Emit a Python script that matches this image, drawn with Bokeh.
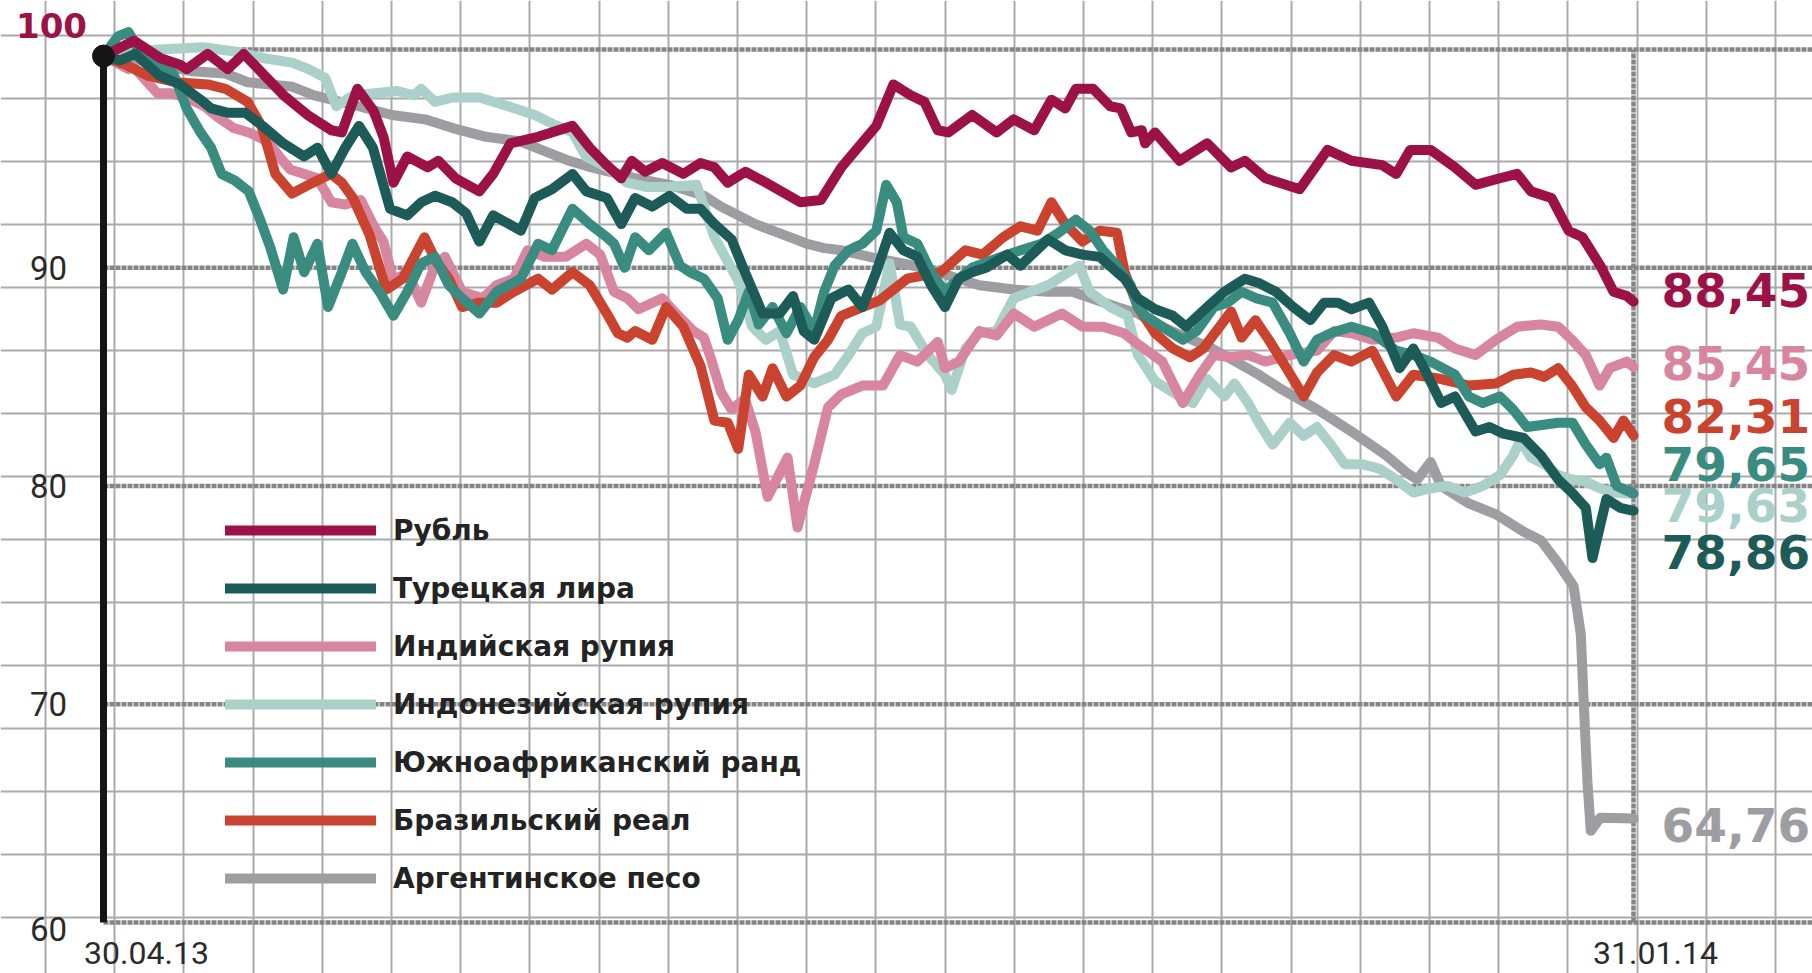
from bokeh.plotting import figure
from bokeh.models import Range1d, Grid, FixedTicker, Legend, LegendItem, ColumnDataSource
from bokeh.core.properties import value
from bokeh.embed import file_html
from bokeh.resources import INLINE

# ---------------- data (days since 30.04.13, index 30.04.13 = 100) ----------------
start_label = "30.04.13"
end_label = "31.01.14"
end_day = 276

names = ["Рубль", "Турецкая лира", "Индийская рупия", "Индонезийская рупия",
         "Южноафриканский ранд", "Бразильский реал", "Аргентинское песо"]
colors = ["#9c1247", "#1c5b58", "#d8869f", "#abd0c9", "#3a8c81", "#c9432f", "#9d9da2"]

rub_days = [0, 5.5, 10.3, 13.8, 15, 18.8, 22.4, 25.3, 28.7, 32.5, 36.8, 41.1, 43, 45.8, 48.7, 50.5, 52.3,
            54.8, 58.5, 60.4, 63.5, 67.8, 70.3, 73.4, 78.4, 84.6, 87.7, 90.8, 93.4, 95.3, 97.7, 100.8,
            104.6, 107.7, 110.2, 112.6, 115.8, 119.5, 125.7, 129.4, 133.1, 139.4, 142.5, 145.6, 148.1,
            150.5, 152.4, 156.7, 161.1, 164.2, 167.9, 171, 173.5, 175.4, 178.5, 181.6, 183.5, 185.4,
            187.3, 187.9, 189.7, 194.1, 199.1, 203.4, 205.9, 209.6, 215.8, 220.8, 225.1, 230.7, 233.2,
            235.7, 239.4, 243.8, 247.5, 251.9, 255, 257.5, 261.2, 264.3, 266.8, 270, 272.4, 274.8, 276]
rub_vals = [99.7, 100.4, 99.6, 99.3, 99.1, 99.8, 99.1, 99.8, 98.9, 97.9, 97.0, 96.3, 96.2, 98.2, 97.2, 96.0,
            93.9, 95.1, 94.6, 94.9, 94.1, 93.5, 94.3, 95.7, 96.0, 96.5, 95.5, 94.7, 94.1, 94.9, 94.4, 94.8,
            94.3, 94.8, 94.6, 93.9, 94.4, 93.9, 93.0, 93.1, 94.6, 96.5, 98.4, 97.9, 97.6, 96.3, 96.2, 97.0,
            96.2, 96.8, 96.3, 97.7, 97.3, 98.2, 98.2, 97.4, 97.3, 96.2, 96.3, 95.7, 96.2, 94.9, 95.7, 94.6,
            94.9, 94.1, 93.6, 95.4, 94.9, 94.7, 94.3, 95.4, 95.4, 94.6, 93.8, 94.1, 94.3, 93.5, 93.2, 91.7,
            91.4, 90.1, 88.9, 88.7, 88.45]

try_days = [0, 3, 5.7, 10.1, 13.8, 17.5, 19.4, 22.5, 25.6, 28.7, 32.4, 36.2, 38.6, 41.1, 43.6, 46.1, 48.6,
            51.7, 54.8, 57.3, 59.8, 62.9, 65.4, 67.8, 70.3, 75.3, 77.8, 80.9, 84.6, 87.1, 90.8, 93.4, 95.9,
            99, 102.1, 105.2, 107.7, 110.2, 113.3, 115.7, 118.9, 122, 124.4, 126.3, 128.2, 131.3, 134.4,
            136.9, 139.4, 141.8, 144.3, 146.8, 149.3, 151.8, 154.3, 156.7, 159.2, 163, 165.4, 170.4, 173.5,
            176.6, 179.7, 182.8, 184.2, 186.6, 189.7, 192.9, 195.3, 199.1, 202.2, 205.9, 208.4, 211.5,
            214.6, 217.7, 220.2, 222.7, 225.1, 228.3, 230.7, 233.8, 236.3, 238.8, 241.3, 243.8, 247.5,
            250, 252.5, 256.2, 259.3, 262.4, 264.9, 267.4, 268.6, 271.1, 273.6, 276]
try_vals = [99.7, 99.5, 99.8, 98.8, 98.4, 97.7, 97.3, 97.1, 97.1, 96.5, 95.7, 95.1, 95.5, 94.3, 95.5, 96.5,
            95.5, 92.7, 92.4, 93.0, 93.3, 93.0, 92.5, 91.2, 92.4, 91.7, 93.2, 93.6, 94.3, 93.5, 93.2, 92.0,
            93.2, 92.8, 93.3, 92.7, 92.7, 92.0, 91.3, 89.8, 87.9, 87.9, 88.7, 87.1, 86.7, 88.6, 89.0, 88.2,
            89.8, 91.6, 90.8, 90.5, 89.2, 88.2, 89.5, 89.8, 90.0, 90.6, 90.1, 91.3, 90.8, 90.6, 90.5, 89.8,
            89.5, 88.6, 88.1, 87.8, 87.3, 88.2, 88.9, 89.5, 89.3, 88.9, 88.2, 87.6, 88.4, 88.4, 88.1, 88.4,
            87.3, 85.4, 86.3, 85.1, 83.8, 84.1, 82.5, 82.7, 82.4, 82.2, 81.4, 80.3, 79.7, 79.0, 76.7, 79.4,
            79.0, 78.86]

inr_days = [0, 4.5, 5.4, 9.7, 12, 15, 18.2, 20.6, 23.5, 26.2, 29.6, 32, 33.7, 36.2, 38.6, 41.1, 43.6, 46.4,
            49, 50.5, 52.3, 54.8, 57.3, 59.8, 61.6, 64.7, 68.4, 70.9, 74, 76.5, 79.6, 83.4, 87.1, 89.6,
            92.1, 94.5, 96.5, 100.8, 103.3, 106.4, 108.3, 109.5, 111.4, 113.3, 115.7, 117.6, 119.8, 123.4,
            125.2, 128.2, 130.7, 133.1, 136.9, 140.6, 143.7, 146.8, 150.5, 151.8, 154.3, 158, 161.1, 164.2,
            167.9, 170.4, 172.9, 176.6, 180.3, 184.1, 186.6, 191, 194.7, 197.8, 200.3, 203.4, 206.5, 209.6,
            214, 218.9, 222, 225.1, 228.9, 233.2, 236.3, 240.7, 243.8, 247.5, 251.2, 255, 259.3, 262.4,
            264.9, 267.4, 269.9, 271.7, 274.8, 276]
inr_vals = [99.7, 99.1, 99.2, 98.0, 98.0, 97.8, 97.4, 96.9, 96.4, 96.2, 95.8, 95.0, 94.5, 94.3, 94.1, 93.0,
            92.9, 93.1, 91.8, 91.2, 89.4, 89.8, 88.4, 90.1, 90.5, 88.9, 88.6, 89.2, 89.5, 90.8, 90.5, 90.5,
            91.1, 90.6, 88.9, 88.6, 88.1, 88.6, 87.9, 87.1, 86.8, 85.9, 84.3, 83.5, 84.0, 82.5, 79.5, 81.3,
            78.1, 81.0, 83.6, 84.2, 84.6, 84.6, 86.0, 85.7, 86.6, 85.4, 85.7, 87.1, 86.9, 87.9, 87.3, 87.6,
            87.9, 87.3, 87.3, 87.0, 86.5, 85.7, 83.8, 85.1, 86.0, 85.9, 86.0, 85.7, 86.0, 86.2, 87.1, 87.0,
            86.7, 86.8, 87.0, 86.8, 86.3, 86.0, 86.7, 87.3, 87.4, 87.3, 86.7, 86.0, 84.6, 85.4, 85.7, 85.45]

idr_days = [0, 6, 10, 18, 24, 29, 34, 37, 40, 42, 45, 49, 53, 56, 57.3, 59.8, 63, 67.8, 73, 77.8, 81.8,
            84.6, 87, 90.8, 94.5, 98, 102, 107, 110.2, 114.5, 117, 119.5, 122, 124.4, 128.2, 131.9, 134.4,
            136.9, 139.4, 141.8, 143.7, 145.6, 148.7, 151.8, 153, 155.5, 158, 161.1, 164.2, 167.3, 170.4,
            174.1, 176, 177.9, 181.6, 184.7, 186.6, 189.7, 194.1, 196.5, 199.1, 202.2, 204, 206.5, 208.4,
            210.9, 214, 216.5, 218.9, 221.4, 223.9, 227, 230.1, 233.2, 236.3, 239.4, 242.5, 245.6, 248.8,
            251.9, 254.3, 255.6, 257.5, 259.9, 262.4, 264.9, 267.4, 269.9, 272.4, 276]
idr_vals = [99.7, 99.9, 100.0, 100.1, 99.9, 99.6, 99.4, 99.1, 98.7, 97.4, 97.9, 98.0, 98.1, 97.9, 98.2, 97.6,
            97.8, 97.8, 97.4, 97.0, 96.5, 96.2, 95.1, 94.6, 93.9, 93.7, 93.7, 93.8, 91.4, 89.4, 87.3, 86.7,
            87.1, 85.1, 84.7, 85.1, 86.0, 87.0, 87.3, 90.2, 87.4, 87.3, 86.0, 85.1, 84.4, 86.3, 87.0, 87.1,
            88.6, 88.9, 89.2, 89.8, 90.1, 88.9, 88.2, 87.8, 86.0, 84.8, 84.1, 83.8, 84.9, 84.1, 84.7, 83.8,
            82.9, 81.9, 82.9, 82.3, 82.7, 81.9, 81.0, 81.0, 80.8, 80.3, 79.7, 79.9, 80.0, 79.7, 80.0, 80.5,
            81.4, 82.1, 81.3, 81.0, 80.5, 80.3, 80.2, 79.9, 79.7, 79.63]

zar_days = [0, 2.6, 4.5, 6.3, 10.1, 12.6, 15, 17.5, 19.4, 21.3, 23.7, 26.2, 28.1, 30, 32.4, 34.3, 36.2,
            38.6, 40.5, 43, 44.9, 47.3, 49.8, 52.3, 54.8, 57.3, 59.8, 62.3, 64.7, 67.8, 70.9, 75.3, 78.4,
            80.9, 84.6, 87.7, 90.8, 92.1, 94, 95.9, 98.4, 101.5, 104, 105.8, 108.3, 110.8, 112.6, 114.5,
            116.4, 118.2, 120.7, 123.2, 125.7, 128.2, 130, 131.9, 134.4, 136.9, 139.4, 141.2, 143.1, 144.3,
            146.8, 149.3, 151.8, 154.3, 156.7, 163, 169.2, 172.3, 175.4, 177.9, 180.3, 182.8, 185.3, 186.6,
            187.9, 191, 194.7, 197.2, 200.3, 202.8, 205.3, 208, 210.9, 214, 216.5, 218.9, 221.4, 225.1, 229,
            233.2, 236.3, 239.4, 243.8, 246.3, 248.8, 251.9, 254.3, 256.8, 262.4, 265, 267.4, 269.9, 271.1,
            273, 276]
zar_vals = [99.7, 100.6, 100.8, 100.0, 99.2, 98.9, 97.3, 96.2, 95.5, 94.3, 94.0, 93.5, 92.3, 91.0, 89.0, 91.4,
            89.8, 91.1, 88.2, 89.8, 91.1, 89.8, 88.9, 87.8, 88.9, 90.2, 90.5, 89.2, 88.6, 87.9, 88.9, 89.5,
            91.1, 90.8, 92.7, 92.0, 91.4, 91.1, 90.0, 91.4, 90.8, 91.6, 90.1, 89.8, 89.5, 88.6, 86.7, 87.6,
            88.9, 87.4, 88.2, 87.0, 88.2, 87.1, 88.9, 90.1, 90.8, 91.1, 91.7, 93.8, 93.0, 91.4, 91.1, 89.8,
            88.9, 89.5, 90.0, 90.6, 91.1, 91.6, 92.2, 91.7, 90.8, 90.1, 89.2, 88.2, 87.8, 87.3, 86.7, 87.1,
            88.2, 88.4, 88.9, 88.6, 88.4, 87.0, 85.7, 86.7, 87.0, 87.3, 87.0, 86.2, 86.0, 85.7, 85.1, 84.1,
            83.8, 84.1, 83.5, 82.7, 82.9, 82.9, 81.9, 81.0, 81.3, 80.0, 79.65]

brl_days = [0, 4, 8, 13, 18.8, 22, 26, 28.5, 31, 34, 37, 41, 43, 45, 48, 51, 54, 57.9, 60, 62.3, 64.7, 67.8,
            70.9, 74, 78.4, 80.9, 84.6, 87.7, 90.8, 92.8, 94.5, 95.9, 99, 101.5, 104.6, 107.7, 110.2, 112.6,
            114.5, 116.4, 118.9, 120.7, 123.2, 125.7, 128.2, 130.7, 133.1, 136.9, 140, 145, 151.1, 155.5,
            158.6, 162.3, 165.4, 168.5, 171, 173.5, 176.6, 179.7, 182.8, 184.2, 186.6, 189.7, 192.9, 196,
            198.4, 203.4, 205.3, 207.8, 210.2, 213.4, 216.5, 218.9, 222, 225.1, 228.9, 233.2, 236.3, 241.3,
            246.3, 251.2, 254.3, 257.5, 259.9, 262.4, 264.9, 267.4, 269.9, 272.4, 274.2, 276]
brl_vals = [99.7, 99.3, 98.8, 98.5, 98.4, 98.2, 97.6, 96.5, 94.3, 93.4, 93.8, 94.3, 93.9, 93.2, 91.5, 89.0,
            89.5, 91.4, 90.3, 89.5, 88.2, 88.4, 88.4, 88.9, 89.5, 89.0, 89.8, 89.2, 87.9, 87.0, 86.8, 87.1,
            86.7, 88.2, 87.3, 85.5, 83.0, 82.9, 81.7, 85.1, 84.1, 85.4, 84.1, 84.6, 85.9, 86.7, 87.8, 88.2,
            88.5, 89.5, 89.8, 90.8, 90.6, 91.4, 91.9, 91.7, 93.0, 92.0, 91.2, 91.7, 91.6, 89.8, 88.2, 87.0,
            86.3, 85.9, 86.3, 88.0, 86.8, 87.6, 86.7, 85.4, 84.1, 85.2, 86.0, 85.7, 86.2, 84.1, 85.1, 84.9,
            84.6, 84.7, 85.1, 85.2, 85.0, 85.4, 84.6, 83.6, 83.0, 82.2, 83.0, 82.31]

ars_days = [0, 5, 10, 16, 22, 26, 34, 38, 46, 52, 58, 63, 69, 75, 78, 84, 88, 94.5, 95.9, 102.1, 108.3, 111.4,
            114.5, 117.6, 120.7, 123.8, 126.9, 130, 133.1, 140, 148, 158, 164.2, 170.4, 174.8, 182.8, 186.6,
            190, 200, 208.4, 212.7, 219, 225.1, 231.4, 235.1, 237, 239.4, 241.3, 246.3, 251.2, 256.2, 259.3,
            262.3, 265.2, 266.5, 267, 267.7, 268.3, 270, 276]
ars_vals = [99.7, 99.6, 99.3, 99.0, 98.9, 98.5, 98.3, 97.9, 97.4, 97.0, 96.8, 96.4, 96.0, 95.8, 95.5, 94.9,
            94.6, 94.2, 94.1, 93.8, 93.3, 92.8, 92.4, 92.0, 91.7, 91.4, 91.1, 90.9, 90.8, 90.4, 90.0, 89.2,
            89.0, 88.9, 88.9, 88.2, 87.9, 87.4, 86.3, 85.1, 84.4, 83.5, 82.5, 81.4, 80.6, 80.3, 81.1, 80.0,
            79.2, 78.7, 77.9, 77.5, 76.5, 75.4, 73.2, 70.2, 66.4, 64.2, 64.8, 64.76]

series_days = [rub_days, try_days, inr_days, idr_days, zar_days, brl_days, ars_days]
series_vals = [rub_vals, try_vals, inr_vals, idr_vals, zar_vals, brl_vals, ars_vals]

y_ticks = [100, 90, 80, 70, 60]

# ---------------- geometry / style ----------------
W, H = 1812, 973
PX_DAY = 1530.0 / end_day          # horizontal pixels per day
PX_UNIT = 873.0 / 40.0             # vertical pixels per index point
X_LEFT = -103.0 / PX_DAY           # day at the left edge of the frame
Y_TOP = 100 + 49.0 / PX_UNIT       # value at the top edge of the frame
x_range = Range1d(X_LEFT, X_LEFT + W / PX_DAY)
y_range = Range1d(Y_TOP - H / PX_UNIT, Y_TOP)

p = figure(width=W, height=H, x_range=x_range, y_range=y_range,
           x_axis_type=None, y_axis_type=None, min_border=0,
           toolbar_location=None, output_backend="svg",
           outline_line_color=None, background_fill_color="white",
           border_fill_color="white")

# graph-paper background grid
paper_x = [X_LEFT + (45 + 69.2 * k) / PX_DAY for k in range(27)]
paper_y = [Y_TOP - (35 + 63.0 * k) / PX_UNIT for k in range(16)]
p.add_layout(Grid(dimension=0, ticker=FixedTicker(ticks=paper_x),
                  grid_line_color="#aaaaaa", grid_line_width=2))
p.add_layout(Grid(dimension=1, ticker=FixedTicker(ticks=paper_y),
                  grid_line_color="#aaaaaa", grid_line_width=2))

# dashed reference levels
x_far = X_LEFT + W / PX_DAY
p.segment(x0=[0] * len(y_ticks), y0=y_ticks, x1=[x_far] * len(y_ticks), y1=y_ticks,
          line_color="#858585", line_width=4.5, line_dash="5 1")
p.segment(x0=[end_day], y0=[min(y_ticks)], x1=[end_day], y1=[max(y_ticks)],
          line_color="#858585", line_width=4.5, line_dash="5 1")

# black left axis + start dot
start_val = rub_vals[0]
p.segment(x0=[0], y0=[min(y_ticks)], x1=[0], y1=[start_val], line_color="#151515", line_width=7)

# series (drawing order: grey first, crimson last)
draw_order = [6, 3, 2, 5, 4, 1, 0]
renderers = {}
for i in draw_order:
    renderers[i] = p.line(series_days[i], series_vals[i], line_color=colors[i], line_width=10,
                          line_join="round", line_cap="round")

p.scatter([0], [start_val], size=22, color="#151515")

# legend
legend = Legend(items=[LegendItem(label=names[i], renderers=[renderers[i]]) for i in range(7)],
                location=(225, 75), orientation="vertical", glyph_width=151, glyph_height=40,
                label_height=40, spacing=18, padding=0, margin=0, label_standoff=17,
                background_fill_alpha=0, border_line_color=None,
                label_text_font="DejaVu Sans", label_text_font_style="bold",
                label_text_font_size="28px", label_text_color="#232323")
p.add_layout(legend)

# end-value labels
label_dy = [-12, -4, -20, -30, 11, 41, 6]   # pixel nudges to avoid overlap, in label order
label_order = [0, 2, 5, 4, 3, 1, 6]
end_src = ColumnDataSource(dict(
    x=[series_days[i][-1] for i in label_order],
    y=[series_vals[i][-1] for i in label_order],
    t=[f"{series_vals[i][-1]:.2f}".replace(".", ",") for i in label_order],
    c=[colors[i] for i in label_order],
    dy=label_dy,
))
p.text(x="x", y="y", text="t", source=end_src, x_offset=28, y_offset="dy",
       text_color="c", text_font=value("DejaVu Sans"), text_font_style="bold",
       text_font_size="47px", text_baseline="middle", text_align="left")

# y tick labels
p.text(x=[0], y=[y_ticks[0]], text=[str(y_ticks[0])], x_offset=-52, y_offset=-24,
       text_color=colors[0], text_font=value("DejaVu Sans"), text_font_style="bold",
       text_font_size="34px", text_baseline="middle", text_align="center")
p.text(x=[0] * 4, y=y_ticks[1:], text=[str(t) for t in y_ticks[1:]], x_offset=-55,
       y_offset=[0, 0, 0, 6], text_color="#2a2a2a", text_font=value("Roboto"),
       text_font_size="33px", text_baseline="middle", text_align="center")

# date labels
p.text(x=[0, end_day], y=[min(y_ticks)] * 2, text=[start_label, end_label], x_offset=[43, 22],
       y_offset=30, text_color="#2a2a2a", text_font=value("Roboto"), text_font_size="32px",
       text_baseline="middle", text_align="center")

open("out.html", "w").write(file_html(p, INLINE))
